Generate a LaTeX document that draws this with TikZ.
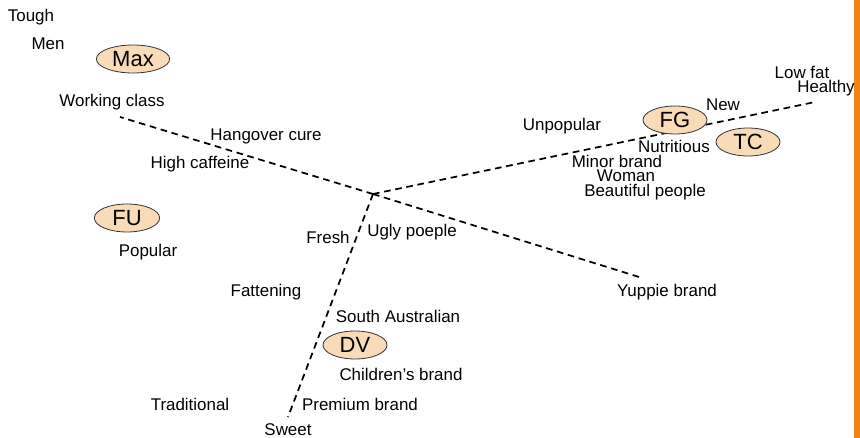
\documentclass[tikz,border=0pt]{standalone}
\usepackage{fontspec}
\setmainfont{Liberation Sans}
\usetikzlibrary{shapes.geometric}
\begin{document}
\begin{tikzpicture}[x=0.75pt,y=-0.75pt,
  lbl/.style={inner sep=0pt,font=\fontsize{12.7}{14}\selectfont},
  brand/.style={ellipse,draw=black!80,line width=0.6pt,fill=brandfill,
    minimum width=#1,minimum height=21,inner sep=0pt,font=\fontsize{16.5}{18}\selectfont},
  axis/.style={line width=1.3pt,dash pattern=on 5pt off 3.5pt}]
\definecolor{brandfill}{HTML}{FADBB8}
\definecolor{barorange}{HTML}{F08519}
\useasboundingbox (0,0) rectangle (860,438);
\fill[barorange] (854,0) rectangle (860,438);

% axes meeting at the origin
\coordinate (o) at (373,194);
\coordinate (ul) at (120,117);
\coordinate (lr) at (639,277);
\coordinate (ur) at (815,102);
\coordinate (ll) at (288,417);
\draw[axis] (o) -- (ul);
\draw[axis] (o) -- (lr);
\draw[axis] (o) -- (ur);
\draw[axis] (o) -- (ll);

% brands
\node[brand=55] (max) at (133,59) {Max};
\node[brand=48] (fg) at (675,120) {FG};
\node[brand=48] (tc) at (748,142) {TC};
\node[brand=49] (fu) at (127,218) {FU};
\node[brand=48] (dv) at (355,345) {DV};

% attributes
\node[lbl] (tough) at (31,17) {Tough};
\node[lbl] (men) at (48,44) {Men};
\node[lbl] (working) at (112,102) {Working class};
\node[lbl] (hangover) at (266,136) {Hangover cure};
\node[lbl] (caffeine) at (200,164) {High caffeine};
\node[lbl] (unpopular) at (562,126) {Unpopular};
\node[lbl] (new) at (723,105) {New};
\node[lbl] (lowfat) at (802,72) {Low fat};
\node[lbl] (healthy) at (826,88) {Healthy};
\node[lbl] (nutritious) at (674,146) {Nutritious};
\node[lbl] (minor) at (617,161) {Minor brand};
\node[lbl] (woman) at (626,176) {Woman};
\node[lbl] (beautiful) at (645,192) {Beautiful people};
\node[lbl] (popular) at (148,252) {Popular};
\node[lbl] (fresh) at (328,237) {Fresh};
\node[lbl] (ugly) at (412,232) {Ugly poeple};
\node[lbl] (fattening) at (266,292) {Fattening};
\node[lbl] (yuppie) at (667,292) {Yuppie brand};
\node[lbl] (south) at (398,316) {South Australian};
\node[lbl] (children) at (401,374) {Children’s brand};
\node[lbl] (traditional) at (190,404) {Traditional};
\node[lbl] (premium) at (360,404) {Premium brand};
\node[lbl] (sweet) at (288,430) {Sweet};
\end{tikzpicture}
\end{document}
